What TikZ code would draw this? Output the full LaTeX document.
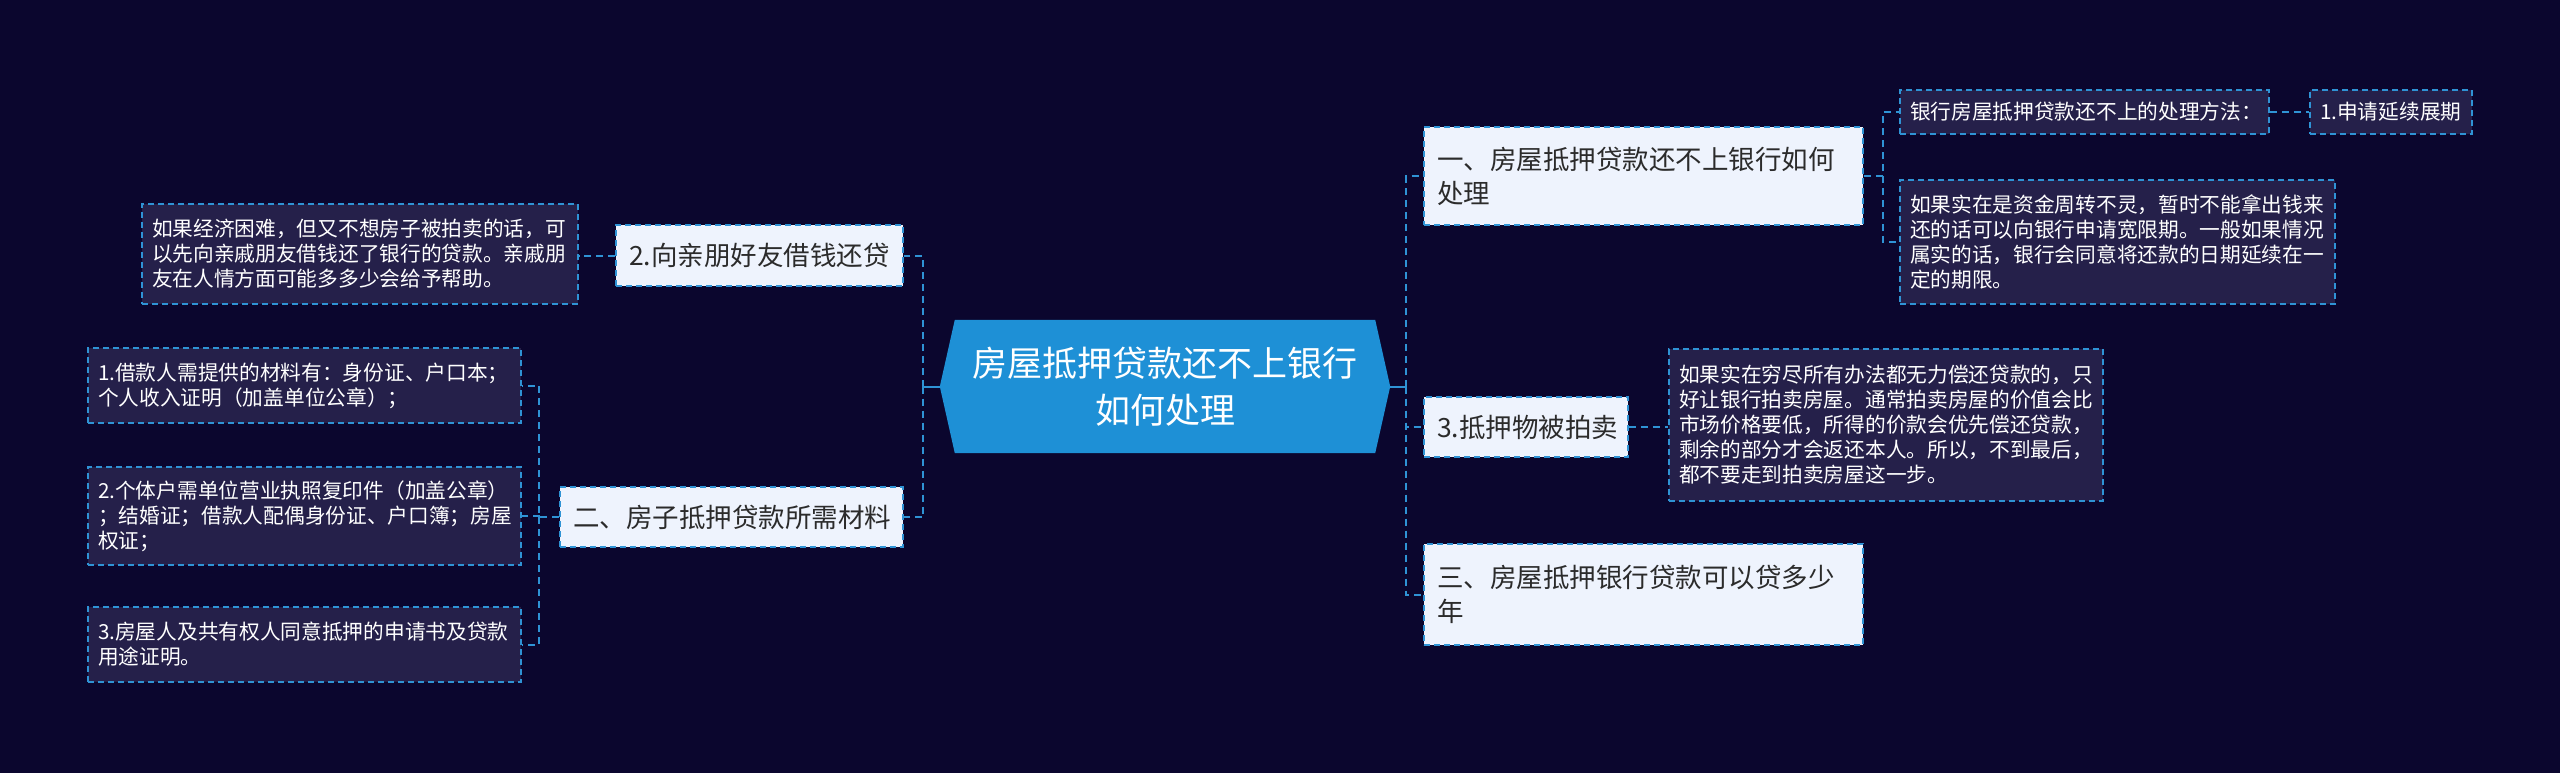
\documentclass[tikz,border=0pt]{standalone}
\usepackage{fontspec}
\setmainfont{Noto Sans CJK SC}
\usetikzlibrary{backgrounds,calc}
\pgfdeclarelayer{background}
\pgfsetlayers{background,main}
\definecolor{bgnavy}{HTML}{0B062E}
\definecolor{rootblue}{HTML}{1E90D6}
\definecolor{linkblue}{HTML}{2F93D5}
\definecolor{leaffill}{HTML}{25204A}
\definecolor{topicfill}{HTML}{EEF3FD}
\definecolor{topictext}{HTML}{2B2B2B}

\begin{document}
\begin{tikzpicture}[x=1pt,y=-1pt]
\tikzstyle{link}=[linkblue,line width=2pt,dash pattern=on 7pt off 5pt]
\tikzstyle{stem}=[linkblue,line width=2pt]
\tikzstyle{rootnode}=[text=white,align=center,font=\fontsize{35}{47}\selectfont]
\tikzstyle{topic}=[draw=linkblue,fill=topicfill,text=topictext,line width=1.6pt,dash pattern=on 6pt off 4pt,align=left,inner xsep=13pt,inner ysep=0pt,font=\fontsize{26.5}{34}\selectfont]
\tikzstyle{leaf}=[draw=linkblue,fill=leaffill,text=white,line width=1.6pt,dash pattern=on 6pt off 4pt,align=left,inner xsep=10pt,inner ysep=0pt,font=\fontsize{20.7}{25}\selectfont]
\useasboundingbox (0,0) rectangle (2560,773);

\node (root) at (1165,386.5) [rootnode,minimum width=420pt,minimum height=133pt] {房屋抵押贷款还不上银行\\如何处理};
\coordinate (rootR) at ($(root.east)+(15,0)$);
\coordinate (rootL) at ($(root.west)+(-15,0)$);

% right side
\node (one) at (1643.5,176) [topic,text width=413pt,minimum height=98pt] {一、房屋抵押贷款还不上银行如何\\处理};
\node (sell) at (1526,427) [topic,text width=178pt,minimum height=60pt] {3.抵押物被拍卖};
\node (three) at (1643.5,594.5) [topic,text width=413pt,minimum height=101pt] {三、房屋抵押银行贷款可以贷多少\\年};
\node (ways) at (2084.5,112) [leaf,text width=349pt,minimum height=44pt] {银行房屋抵押贷款还不上的处理方法：};
\node (extend) at (2391,112) [leaf,text width=142pt,minimum height=44pt] {1.申请延续展期};
\node (grace) at (2117.5,242) [leaf,text width=415pt,minimum height=124pt] {如果实在是资金周转不灵，暂时不能拿出钱来\\还的话可以向银行申请宽限期。一般如果情况\\属实的话，银行会同意将还款的日期延续在一\\定的期限。};
\node (auction) at (1886,425) [leaf,text width=414pt,minimum height=152pt] {如果实在穷尽所有办法都无力偿还贷款的，只\\好让银行拍卖房屋。通常拍卖房屋的价值会比\\市场价格要低，所得的价款会优先偿还贷款，\\剩余的部分才会返还本人。所以，不到最后，\\都不要走到拍卖房屋这一步。};

% left side
\node (friends) at (759.5,255.5) [topic,text width=261pt,minimum height=61pt] {2.向亲朋好友借钱还贷};
\node (two) at (731.5,517) [topic,text width=317pt,minimum height=60pt] {二、房子抵押贷款所需材料};
\node (help) at (360,254) [leaf,text width=416pt,minimum height=100pt] {如果经济困难，但又不想房子被拍卖的话，可\\以先向亲戚朋友借钱还了银行的贷款。亲戚朋\\友在人情方面可能多多少会给予帮助。};
\node (doc1) at (304.5,385.5) [leaf,text width=413pt,minimum height=75pt] {1.借款人需提供的材料有：身份证、户口本；\\个人收入证明（加盖单位公章）；};
\node (doc2) at (304.5,516) [leaf,text width=413pt,minimum height=98pt] {2.个体户需单位营业执照复印件（加盖公章）\\；结婚证；借款人配偶身份证、户口簿；房屋\\权证；};
\node (doc3) at (304.5,644.5) [leaf,text width=413pt,minimum height=75pt] {3.房屋人及共有权人同意抵押的申请书及贷款\\用途证明。};

\coordinate (rtrunk) at (1406,386.5);
\coordinate (ltrunk) at (923,386.5);
\coordinate (onej) at (1883,176);
\coordinate (twoj) at (539,517);

\draw[stem] (rootR) -- (rtrunk);
\draw[link] (rtrunk) |- (one.west);
\draw[link] (rtrunk) |- (sell.west);
\draw[link] (rtrunk) |- (three.west);
\draw[link] (one.east) -- (onej) |- (ways.west);
\draw[link] (onej) |- (grace.west);
\draw[link] (ways.east) -- (extend.west);
\draw[link] (sell.east) -- (sell.east -| auction.west);

\draw[stem] (rootL) -- (ltrunk);
\draw[link] (ltrunk) |- (friends.east);
\draw[link] (ltrunk) |- (two.east);
\draw[link] (friends.west) -- (friends.west -| help.east);
\draw[link] (two.west) -- (twoj) |- (doc1.east);
\draw[link] (twoj) |- (doc2.east);
\draw[link] (twoj) |- (doc3.east);

\begin{pgfonlayer}{background}
\fill[bgnavy] (0,0) rectangle (2560,773);
\fill[rootblue] (root.north west) -- (root.north east) -- (rootR) -- (root.south east) -- (root.south west) -- (rootL) -- cycle;
\end{pgfonlayer}
\end{tikzpicture}
\end{document}
